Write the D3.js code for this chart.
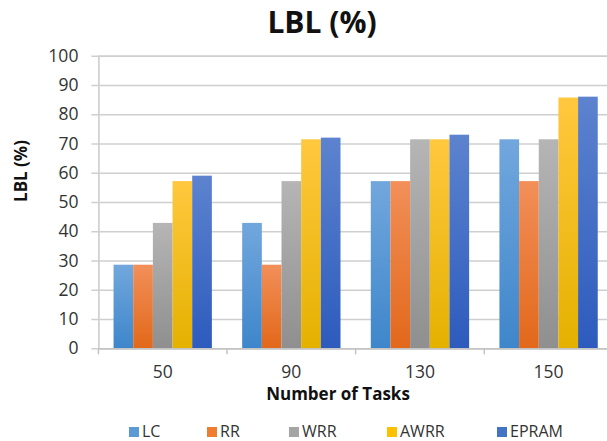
<!DOCTYPE html>
<html><head><meta charset="utf-8">
<script src="https://cdn.jsdelivr.net/npm/d3@7"></script>
<style>body{margin:0;background:#fff}svg{display:block}text{font-family:"Open Sans",sans-serif}</style>
</head><body><svg id="c" width="607" height="441"></svg>
<script>
const categories = ["50", "90", "130", "150"];
const seriesNames = ["LC", "RR", "WRR", "AWRR", "EPRAM"];
const LC    = [28.57, 42.86, 57.14, 71.43];
const RR    = [28.57, 28.57, 57.14, 57.14];
const WRR   = [42.86, 57.14, 71.43, 71.43];
const AWRR  = [57.14, 71.43, 71.43, 85.71];
const EPRAM = [59, 72, 73, 86];
const yTicks = [0,10,20,30,40,50,60,70,80,90,100];
const colorsTop = ["#72a7dd","#f28f59","#b5b5b5","#ffc83f","#5d83cf"];
const colorsBot = ["#3e86cb","#e2681a","#8f8f8f","#e4b100","#2d5bbd"];
const legendColors = ["#5b9bd5","#ed7d31","#a5a5a5","#ffc000","#4472c4"];
const seriesData = [LC, RR, WRR, AWRR, EPRAM];

(function(){
const svg = d3.select("#c");
const pL = 98.4, pR = 612.9, pT = 55.7, pB = 348.3;
const x0 = d3.scaleBand().domain(categories).range([pL, pR]).padding(0);
const groupFrac = 0.7644;
const bw = x0.bandwidth();
const x1 = d3.scaleBand().domain(seriesNames)
  .range([bw*(1-groupFrac)/2, bw*(1+groupFrac)/2]).padding(0);
const y = d3.scaleLinear().domain([0,100]).range([pB, pT]);

const defs = svg.append("defs");
seriesNames.forEach((s,i)=>{
  const g = defs.append("linearGradient").attr("id","g"+i).attr("x1",0).attr("x2",0).attr("y1",0).attr("y2",1);
  g.append("stop").attr("offset","0%").attr("stop-color",colorsTop[i]);
  g.append("stop").attr("offset","100%").attr("stop-color",colorsBot[i]);
});

const yAxis = d3.axisLeft(y).tickValues(yTicks).tickSize(-(pR-pL)).tickPadding(20).tickFormat(d3.format("d"));
const ga = svg.append("g").attr("transform",`translate(${pL},0)`).call(yAxis);
ga.select(".domain").attr("stroke","#c9c9c9").attr("stroke-width",1.5);
ga.selectAll(".tick line").attr("stroke","#cfcfcf").attr("stroke-width",1.5).attr("x1",-7);
ga.selectAll(".tick text").attr("font-size",17.5).attr("fill","#333");

categories.forEach((c,ci)=>{
  seriesNames.forEach((s,si)=>{
    const v = seriesData[si][ci];
    svg.append("rect")
      .attr("x", x0(c)+x1(s)).attr("width", x1.bandwidth())
      .attr("y", y(v)).attr("height", y(0)-y(v))
      .attr("fill", `url(#g${si})`);
  });
});

const xAxis = d3.axisBottom(x0).tickSize(0).tickPadding(17);
const gx = svg.append("g").attr("transform",`translate(0,${pB})`).call(xAxis);
gx.select(".domain").attr("stroke","#c4c4c4").attr("stroke-width",1.5);
gx.selectAll(".tick text").attr("font-size",17.5).attr("fill","#333");
const bounds = categories.map(c=>x0(c)).concat([pR]);
svg.append("g").selectAll("line").data(bounds).join("line")
  .attr("x1",d=>d).attr("x2",d=>d).attr("y1",pB).attr("y2",pB+6)
  .attr("stroke","#c4c4c4").attr("stroke-width",1.5);

svg.append("text").attr("x",322).attr("y",33).attr("text-anchor","middle")
  .attr("font-size",30).attr("font-weight","bold").attr("fill","#111").text("LBL (%)");
svg.append("text").attr("transform","translate(27,171) rotate(-90)").attr("text-anchor","middle")
  .attr("font-size",17).attr("font-weight","bold").attr("fill","#111").text("LBL (%)");
svg.append("text").attr("x",338).attr("y",400).attr("text-anchor","middle")
  .attr("font-size",17).attr("font-weight","bold").attr("fill","#111").text("Number of Tasks");

const legX = [129, 207, 289, 387, 497];
const lg = svg.append("g");
seriesNames.forEach((s,i)=>{
  lg.append("rect").attr("x",legX[i]).attr("y",427).attr("width",10).attr("height",10).attr("fill",legendColors[i]);
  lg.append("text").attr("x",legX[i]+13).attr("y",436.5).attr("font-size",16).attr("fill","#333").text(s);
});
})();
</script></body></html>
